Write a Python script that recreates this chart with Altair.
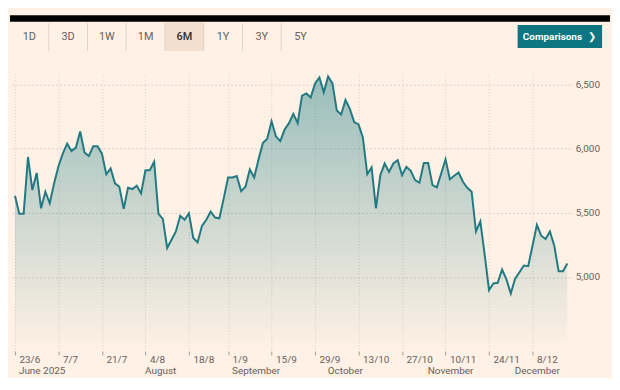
import json
import altair as alt
import pandas as pd

# ---- data (one value per trading day, 23/6 .. 18/12) ----
values = [
    5634, 5494, 5494, 5936, 5678, 5812, 5536, 5665, 5575, 5730,
    5864, 5962, 6040, 5983, 6009, 6135, 5970, 5944, 6019, 6019,
    5962, 5800, 5846, 5730, 5704, 5531, 5696, 5686, 5712, 5652,
    5833, 5833, 5898, 5492, 5453, 5226, 5290, 5355, 5477, 5446,
    5497, 5304, 5270, 5399, 5446, 5510, 5464, 5458, 5613, 5776,
    5776, 5787, 5670, 5704, 5838, 5776, 5916, 6045, 6078, 6215,
    6097, 6060, 6150, 6200, 6272, 6200, 6414, 6432, 6401, 6510,
    6556, 6440, 6564, 6510, 6298, 6267, 6381, 6311, 6208, 6190,
    6087, 5802, 5854, 5536, 5794, 5885, 5820, 5885, 5911, 5794,
    5859, 5828, 5756, 5735, 5890, 5890, 5717, 5699, 5807, 5918,
    5763, 5789, 5815, 5743, 5696, 5665, 5355, 5433, 5174, 4898,
    4950, 4955, 5058, 4981, 4870, 4986, 5037, 5089, 5084, 5244,
    5407, 5322, 5296, 5355, 5244, 5045, 5045, 5105,
]
tick_idx = [0, 10, 20, 30, 40, 49, 59, 69, 79, 89, 99, 109, 119]
tick_labels = ["23/6", "7/7", "21/7", "4/8", "18/8", "1/9", "15/9", "29/9",
               "13/10", "27/10", "10/11", "24/11", "8/12"]
month_idx = [0, 29, 49, 71, 94, 114]
month_labels = ["June 2025", "August", "September", "October", "November", "December"]
y_ticks = [5000, 5500, 6000, 6500]
buttons = ["1D", "3D", "1W", "1M", "6M", "1Y", "3Y", "5Y"]
selected = "6M"
comparisons_label = "Comparisons"

BG = "#FFF1E5"
TEAL = "#0D7680"
LINE = "#217A82"
LABEL = "#66605C"
FONT = "Roboto"

df = pd.DataFrame({"i": list(range(len(values))), "v": values})
months = pd.DataFrame({"i": month_idx, "label": month_labels})

x_scale = alt.Scale(domain=[-1.142, 127.68], nice=False, zero=False)
y_scale = alt.Scale(domain=[4423, 6585], nice=False, zero=False)

label_expr = f"{json.dumps(tick_labels)}[indexof({json.dumps(tick_idx)}, datum.value)]".replace('"', "'")

x_axis = alt.Axis(
    values=tick_idx, labelExpr=label_expr, title=None, grid=True,
    gridDash=[1, 2], gridColor="#DCCFC4", gridWidth=1,
    domain=False, ticks=True, tickSize=4, tickColor="#A59C95",
    labelAlign="left", labelOffset=4, labelPadding=0, labelBaseline="top",
    labelFont=FONT, labelFontSize=10, labelColor=LABEL,
)
y_axis = alt.Axis(
    values=y_ticks, labelExpr="format(datum.value, ',')", orient="right", title=None,
    grid=True, gridDash=[2, 2], gridColor="#D8CDC3", gridWidth=1,
    domain=False, ticks=False, tickSize=0, labelPadding=5, labelAlign="left",
    labelFont=FONT, labelFontSize=10, labelColor=LABEL,
)

base = alt.Chart(df)
area = base.mark_area(
    color=alt.Gradient(
        gradient="linear",
        stops=[alt.GradientStop(color="rgba(13,118,128,0.42)", offset=0),
               alt.GradientStop(color="rgba(13,118,128,0.0)", offset=1)],
        x1=0, x2=0, y1=0, y2=1,
    )
).encode(
    x=alt.X("i:Q", scale=x_scale, axis=x_axis),
    y=alt.Y("v:Q", scale=y_scale, axis=y_axis),
    y2=alt.datum(4423),
)
line = base.mark_line(color=LINE, strokeWidth=2).encode(
    x=alt.X("i:Q", scale=x_scale),
    y=alt.Y("v:Q", scale=y_scale),
)
month_text = alt.Chart(months).mark_text(
    align="left", baseline="alphabetic", dx=4, font=FONT, fontSize=10, color=LABEL
).encode(
    x=alt.X("i:Q", scale=x_scale),
    y=alt.value(302),
    text="label:N",
)

layers = [area, line, month_text]

one = pd.DataFrame({"label": [""]})
# black top rule
layers.append(alt.Chart(one).mark_rect(color="#000000").encode(
    x=alt.value(0), x2=alt.value(604), y=alt.value(-59), y2=alt.value(-52.5)))
# range buttons
for k, b in enumerate(buttons):
    if b == selected:
        layers.append(alt.Chart(one).mark_rect(color="#F2DFCE").encode(
            x=alt.value(39 * k), x2=alt.value(39 * (k + 1)),
            y=alt.value(-52), y2=alt.value(-23)))
for k in range(1, len(buttons)):
    layers.append(alt.Chart(one).mark_rule(color="#E3D3C5", strokeWidth=1).encode(
        x=alt.value(39 * k), y=alt.value(-51), y2=alt.value(-23)))
for k, b in enumerate(buttons):
    layers.append(alt.Chart(pd.DataFrame({"label": [b]})).mark_text(
        font=FONT, fontSize=11, color="#33302E" if b == selected else LABEL,
        fontWeight=500 if b == selected else 400,
        align="center", baseline="middle",
    ).encode(x=alt.value(19.5 + 39 * k), y=alt.value(-37.5), text="label:N"))
# comparisons button
layers.append(alt.Chart(one).mark_rect(color=TEAL).encode(
    x=alt.value(511), x2=alt.value(596), y=alt.value(-49), y2=alt.value(-26)))
layers.append(alt.Chart(pd.DataFrame({"label": [comparisons_label]})).mark_text(
    font=FONT, fontSize=10, fontWeight="bold", color="#FFFFFF",
    align="center", baseline="middle",
).encode(x=alt.value(546), y=alt.value(-37.5), text="label:N"))
layers.append(alt.Chart(pd.DataFrame({"label": ["\u276f"]})).mark_text(
    font="DejaVu Sans", fontSize=10, fontWeight="bold", color="#FFFFFF",
    align="center", baseline="middle",
).encode(x=alt.value(586), y=alt.value(-37.5), text="label:N"))

chart = alt.layer(*layers).properties(
    width=564, height=279,
    autosize=alt.AutoSizeParams(type="none"),
    padding={"left": 2, "top": 65, "right": 42, "bottom": 26},
    background=BG,
).configure_view(stroke=None)

chart.save("out.html", embed_options={"renderer": "svg", "actions": False})
